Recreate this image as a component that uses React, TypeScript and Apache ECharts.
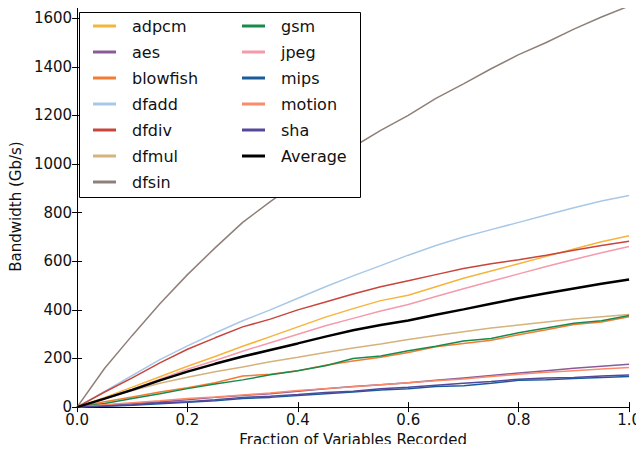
import React, { useEffect, useRef } from "react";
import * as echarts from "echarts";

const fractions = [0, 0.05, 0.1, 0.15, 0.2, 0.25, 0.3, 0.35, 0.4, 0.45, 0.5, 0.55, 0.6, 0.65, 0.7, 0.75, 0.8, 0.85, 0.9, 0.95, 1.0];

const adpcm = [0, 40, 82, 125, 168, 208, 250, 290, 330, 370, 405, 438, 460, 495, 530, 560, 590, 620, 650, 680, 705];
const aes = [0, 8, 15, 22, 30, 40, 48, 55, 65, 75, 85, 92, 100, 110, 120, 130, 140, 150, 160, 168, 176];
const blowfish = [0, 22, 42, 62, 80, 100, 128, 135, 150, 172, 190, 205, 225, 248, 262, 275, 298, 318, 340, 350, 372];
const dfadd = [0, 65, 130, 195, 252, 305, 355, 400, 448, 495, 540, 582, 625, 665, 700, 730, 760, 790, 820, 848, 870];
const dfdiv = [0, 62, 120, 182, 238, 285, 330, 362, 400, 432, 465, 495, 520, 545, 570, 590, 606, 625, 645, 665, 682];
const dfmul = [0, 35, 68, 98, 123, 145, 165, 187, 205, 225, 243, 260, 278, 295, 310, 325, 338, 350, 362, 372, 381];
const dfsin = [0, 160, 295, 425, 545, 655, 760, 845, 925, 1000, 1070, 1138, 1200, 1270, 1330, 1392, 1450, 1500, 1555, 1605, 1650];
const gsm = [0, 15, 35, 55, 76, 95, 112, 133, 150, 170, 200, 210, 232, 250, 272, 282, 306, 325, 345, 355, 377];
const jpeg = [0, 36, 74, 115, 156, 192, 230, 265, 300, 335, 365, 395, 422, 455, 487, 518, 548, 578, 607, 635, 661];
const mips = [0, 3, 8, 14, 20, 26, 35, 40, 48, 55, 62, 70, 75, 85, 88, 98, 110, 112, 118, 122, 126];
const motion = [0, 10, 18, 26, 35, 42, 50, 58, 68, 76, 84, 92, 100, 108, 116, 126, 135, 143, 150, 157, 163];
const sha = [0, 5, 10, 18, 22, 30, 40, 45, 52, 60, 65, 75, 82, 90, 98, 105, 115, 120, 122, 128, 132];
const average = [0, 35, 71, 110, 146, 178, 208, 235, 262, 290, 316, 338, 356, 380, 402, 425, 448, 468, 488, 507, 525];

const xTicks = [0, 0.2, 0.4, 0.6, 0.8, 1.0];
const yTicks = [0, 200, 400, 600, 800, 1000, 1200, 1400, 1600];

const seriesDefs: { name: string; data: number[]; color: string; width: number }[] = [
  { name: "adpcm", data: adpcm, color: "#f7b43c", width: 1.5 },
  { name: "aes", data: aes, color: "#8a5a99", width: 1.5 },
  { name: "blowfish", data: blowfish, color: "#f47b32", width: 1.5 },
  { name: "dfadd", data: dfadd, color: "#a8c8e6", width: 1.5 },
  { name: "dfdiv", data: dfdiv, color: "#c9443b", width: 1.5 },
  { name: "dfmul", data: dfmul, color: "#d6b27c", width: 1.5 },
  { name: "dfsin", data: dfsin, color: "#8e8079", width: 1.5 },
  { name: "gsm", data: gsm, color: "#178a4c", width: 1.5 },
  { name: "jpeg", data: jpeg, color: "#f59aaa", width: 1.5 },
  { name: "mips", data: mips, color: "#1b5b9c", width: 1.5 },
  { name: "motion", data: motion, color: "#fa8a6a", width: 1.5 },
  { name: "sha", data: sha, color: "#54489a", width: 1.5 },
  { name: "Average", data: average, color: "#000000", width: 2.5 },
];

const FONT = "DejaVu Sans";

export default function App() {
  const ref = useRef<HTMLDivElement>(null);
  useEffect(() => {
    if (!ref.current) return;
    const chart = echarts.init(ref.current, undefined, { renderer: "svg" });
    const legendText = {
      fontFamily: FONT,
      fontSize: 16,
      color: "#111",
      lineHeight: 16,
      padding: [0, 0, 0, 11],
    };
    const axisCommon = {
      axisLine: { show: true, lineStyle: { color: "#000", width: 1 } },
      axisTick: { show: true, inside: true, length: 5, lineStyle: { color: "#000" } },
      splitLine: { show: false },
    };
    chart.setOption({
      animation: false,
      backgroundColor: "#ffffff",
      grid: { left: 71, right: 12, top: 6, bottom: 44 },
      xAxis: [
        {
          type: "value",
          min: xTicks[0],
          max: xTicks[xTicks.length - 1],
          interval: 0.2,
          ...axisCommon,
          axisLabel: {
            fontFamily: FONT,
            fontSize: 15,
            color: "#111",
            margin: 5,
            formatter: (v: number) => v.toFixed(1),
          },
          name: "Fraction of Variables Recorded",
          nameLocation: "middle",
          nameGap: 21,
          nameTextStyle: { fontFamily: FONT, fontSize: 15, color: "#111" },
        },
        {
          type: "value",
          position: "top",
          min: xTicks[0],
          max: xTicks[xTicks.length - 1],
          interval: 0.2,
          ...axisCommon,
          axisLabel: { show: false },
        },
      ],
      yAxis: [
        {
          type: "value",
          min: yTicks[0],
          max: 1650,
          interval: 200,
          ...axisCommon,
          axisLabel: {
            fontFamily: FONT,
            fontSize: 15,
            color: "#111",
            margin: 5,
            showMaxLabel: false,
            formatter: (v: number) => String(v),
          },
          name: "Bandwidth (Gb/s)",
          nameLocation: "middle",
          nameGap: 50,
          nameTextStyle: { fontFamily: FONT, fontSize: 15, color: "#111" },
        },
        {
          type: "value",
          position: "right",
          min: yTicks[0],
          max: 1650,
          interval: 200,
          ...axisCommon,
          axisLabel: { show: false },
        },
      ],
      graphic: {
        elements: [
          {
            type: "rect",
            z: 3,
            shape: { x: 79.5, y: 12.5, width: 281, height: 185 },
            style: { fill: "#ffffff", stroke: "#000", lineWidth: 1 },
          },
        ],
      },
      legend: [
        {
          z: 5,
          orient: "vertical",
          left: 88,
          top: 13,
          itemWidth: 23,
          itemHeight: 3,
          itemGap: 10,
          icon: "rect",
          textStyle: legendText,
          data: seriesDefs.slice(0, 7).map((s) => s.name),
        },
        {
          z: 5,
          orient: "vertical",
          left: 237,
          top: 13,
          itemWidth: 23,
          itemHeight: 3,
          itemGap: 10,
          icon: "rect",
          textStyle: legendText,
          data: seriesDefs.slice(7).map((s) => s.name),
        },
      ],
      series: seriesDefs.map((s) => ({
        name: s.name,
        type: "line",
        showSymbol: false,
        symbol: "none",
        data: s.data.map((v, i) => [fractions[i], v]),
        lineStyle: { color: s.color, width: s.width },
        itemStyle: { color: s.color },
        z: s.name === "Average" ? 2.5 : 2,
      })),
    });
    return () => chart.dispose();
  }, []);
  return <div ref={ref} style={{ width: 644, height: 452, margin: -8 }} />;
}
